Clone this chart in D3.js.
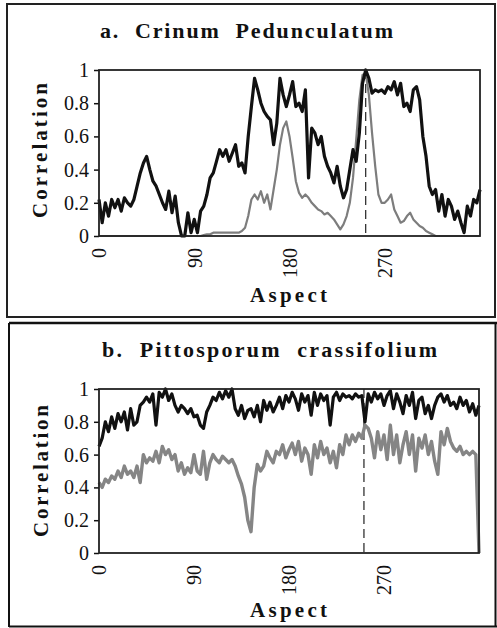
<!DOCTYPE html>
<html><head><meta charset="utf-8">
<script src="https://cdn.jsdelivr.net/npm/d3@7"></script>
<style>
body{margin:0;background:#fff}
svg{display:block}
text{font-family:"Liberation Serif","Times New Roman",serif;fill:#111}
</style>
</head><body>
<svg id="chart" width="497" height="628"></svg>
<script>
// ---------- data ----------
const aspectStep = 3;
const aspects = d3.range(0, 361, aspectStep);           // 0..360 every 3 degrees
const xTickValues = [0, 90, 180, 270];
const yTickValues = [0, 0.2, 0.4, 0.6, 0.8, 1];
const yTickLabels = ["0", "0.2", "0.4", "0.6", "0.8", "1"];
const panelTitles = ["a.  Crinum  Pedunculatum", "b.  Pittosporum  crassifolium"];
const yAxisTitle = "Correlation";
const xAxisTitle = "Aspect";
const markerAspects = [252, 251];

const crinumBlack = [
 0.22,0.08,0.2,0.12,0.22,0.17,0.22,0.15,0.23,0.2,
 0.18,0.22,0.3,0.38,0.44,0.48,0.4,0.33,0.3,0.25,
 0.2,0.16,0.27,0.14,0.24,0.08,0.0,0.0,0.14,0.02,
 0.1,0.02,0.15,0.18,0.25,0.35,0.38,0.45,0.52,0.48,
 0.52,0.45,0.5,0.55,0.42,0.44,0.38,0.6,0.78,0.95,
 0.88,0.8,0.75,0.72,0.7,0.55,0.68,0.95,0.85,0.78,
 0.85,0.93,0.78,0.8,0.75,0.88,0.35,0.65,0.62,0.55,
 0.6,0.48,0.42,0.38,0.32,0.42,0.3,0.23,0.28,0.4,
 0.52,0.45,0.62,0.92,1.0,0.95,0.86,0.88,0.87,0.88,
 0.86,0.9,0.88,0.93,0.85,0.92,0.78,0.8,0.75,0.88,
 0.9,0.82,0.6,0.48,0.3,0.25,0.28,0.15,0.25,0.12,
 0.22,0.18,0.1,0.15,0.08,0.02,0.18,0.12,0.22,0.2,
 0.28];
const crinumGray = [
 0,0,0,0,0,0,0,0,0,0,
 0,0,0,0,0,0,0,0,0,0,
 0,0,0,0,0,0,0,0,0,0,
 0,0,0,0.005,0.01,0.01,0.02,0.02,0.02,0.02,
 0.02,0.02,0.02,0.02,0.02,0.03,0.05,0.12,0.22,0.25,
 0.22,0.27,0.2,0.25,0.16,0.28,0.4,0.55,0.65,0.69,
 0.6,0.47,0.33,0.26,0.23,0.25,0.23,0.2,0.18,0.16,
 0.15,0.13,0.14,0.12,0.1,0.07,0.04,0.07,0.12,0.2,
 0.35,0.58,0.82,0.97,0.98,0.85,0.62,0.42,0.25,0.2,
 0.2,0.22,0.25,0.16,0.12,0.08,0.09,0.12,0.14,0.1,
 0.08,0.06,0.05,0.03,0.02,0.01,0,0,0,0,
 0,0,0,0,0,0,0,0,0,0,
 0];
const pittoBlack = [
 0.65,0.7,0.8,0.74,0.83,0.76,0.85,0.8,0.86,0.75,
 0.88,0.78,0.8,0.9,0.92,0.95,0.92,0.97,0.78,0.98,
 0.95,1.0,0.93,0.97,0.9,0.86,0.9,0.88,0.85,0.88,
 0.83,0.84,0.78,0.76,0.86,0.9,0.95,0.93,0.98,0.94,
 0.99,0.95,1.0,0.88,0.84,0.9,0.82,0.87,0.88,0.83,
 0.9,0.8,0.93,0.87,0.92,0.86,0.9,0.95,0.88,0.96,
 0.92,0.98,0.94,0.87,0.97,0.92,0.96,0.84,0.98,0.9,
 0.97,0.93,0.96,0.78,0.95,0.98,0.93,0.97,0.95,0.96,
 0.94,0.97,0.95,0.96,0.8,0.97,0.92,0.98,0.94,0.97,
 0.9,0.96,0.99,0.88,0.97,0.92,0.85,0.96,0.9,0.98,
 0.82,0.93,0.95,0.85,0.9,0.82,0.9,0.95,0.97,0.92,
 0.96,0.9,0.92,0.88,0.95,0.9,0.93,0.86,0.91,0.84,
 0.9];
const pittoGray = [
 0.43,0.4,0.45,0.43,0.47,0.45,0.5,0.46,0.53,0.48,
 0.5,0.46,0.53,0.43,0.6,0.55,0.58,0.56,0.62,0.55,
 0.65,0.6,0.63,0.57,0.6,0.5,0.55,0.48,0.52,0.49,
 0.6,0.5,0.48,0.62,0.45,0.55,0.6,0.57,0.55,0.59,
 0.57,0.55,0.57,0.53,0.47,0.42,0.34,0.2,0.13,0.4,
 0.54,0.5,0.53,0.62,0.58,0.55,0.62,0.6,0.66,0.58,
 0.63,0.67,0.6,0.68,0.56,0.64,0.6,0.48,0.66,0.58,
 0.68,0.6,0.64,0.55,0.62,0.52,0.66,0.6,0.72,0.66,
 0.72,0.68,0.73,0.7,0.78,0.76,0.7,0.58,0.74,0.63,
 0.72,0.57,0.78,0.6,0.72,0.55,0.66,0.74,0.6,0.72,
 0.5,0.7,0.64,0.72,0.6,0.68,0.56,0.48,0.74,0.66,
 0.76,0.68,0.64,0.62,0.65,0.6,0.62,0.6,0.62,0.6,
 0.0];

// ---------- layout ----------
const layout = [
  {plot:{x0:99,x1:480,y0:70,y1:236},
   title:{x:100,y:38,w:293}, ylab:{x:47,cy:150.5,len:135}, xlab:{cx:288.5,y:302,len:77}, xtickTop:248,
   black:crinumBlack, gray:crinumGray, grayW:2.2, grayC:"#7d7d7d"},
  {plot:{x0:99,x1:479,y0:389,y1:553},
   title:{x:102,y:357,w:335}, ylab:{x:48,cy:471,len:132}, xlab:{cx:288.5,y:617,len:77}, xtickTop:565,
   black:pittoBlack, gray:pittoGray, grayW:3.4, grayC:"#858585"}
];

const svg = d3.select("#chart");

// outer frames
svg.append("rect").attr("x",7).attr("y",4).attr("width",488).attr("height",313)
  .attr("fill","none").attr("stroke","#222").attr("stroke-width",2);
svg.append("line").attr("x1",9).attr("x2",497).attr("y1",323).attr("y2",323)
  .attr("stroke","#111").attr("stroke-width",2.5);
svg.append("line").attr("x1",9).attr("x2",9).attr("y1",323).attr("y2",627)
  .attr("stroke","#111").attr("stroke-width",2);
svg.append("line").attr("x1",9).attr("x2",497).attr("y1",626.5).attr("y2",626.5)
  .attr("stroke","#111").attr("stroke-width",2);
svg.append("line").attr("x1",495.5).attr("x2",495.5).attr("y1",323).attr("y2",627)
  .attr("stroke","#111").attr("stroke-width",2);

layout.forEach((L, i) => {
  const p = L.plot;
  const x = d3.scaleLinear().domain([0, 360]).range([p.x0, p.x1]);
  const y = d3.scaleLinear().domain([0, 1]).range([p.y1, p.y0]);
  const g = svg.append("g");

  // title
  g.append("text").attr("x", L.title.x).attr("y", L.title.y)
    .attr("font-size", 22).attr("font-weight", "bold")
    .style("white-space", "pre")
    .attr("textLength", L.title.w).attr("lengthAdjust", "spacing")
    .text(panelTitles[i]);

  // y axis
  const yAxis = d3.axisLeft(y).tickValues(yTickValues)
    .tickFormat((d, k) => yTickLabels[k]).tickSize(5).tickPadding(5);
  const ya = g.append("g").attr("transform", `translate(${p.x0},0)`).call(yAxis);
  ya.select(".domain").remove();
  ya.selectAll("line").attr("stroke", "#111").attr("stroke-width", 1.5);
  ya.selectAll("text").attr("font-size", 20).attr("font-family", "Liberation Serif").attr("fill", "#111");

  // x axis labels (rotated)
  const xAxis = d3.axisBottom(x).tickValues(xTickValues).tickSize(0).tickFormat(d3.format("d"));
  const xa = g.append("g").attr("transform", `translate(0,${p.y1})`).call(xAxis);
  xa.select(".domain").remove();
  xa.selectAll("text")
    .attr("font-size", 20).attr("font-family", "Liberation Serif").attr("fill", "#111")
    .attr("text-anchor", "end")
    .attr("transform", `translate(0,${L.xtickTop - p.y1}) rotate(-90)`)
    .attr("x", 0).attr("y", 0).attr("dy", "0.34em");

  // axis titles
  g.append("text")
    .attr("transform", `translate(${L.ylab.x},${L.ylab.cy}) rotate(-90)`)
    .attr("text-anchor", "middle").attr("font-size", 21).attr("font-weight", "bold")
    .attr("textLength", L.ylab.len).attr("lengthAdjust", "spacing")
    .text(yAxisTitle);
  g.append("text")
    .attr("x", L.xlab.cx).attr("y", L.xlab.y)
    .attr("text-anchor", "middle").attr("font-size", 21).attr("font-weight", "bold")
    .attr("textLength", L.xlab.len).attr("lengthAdjust", "spacing")
    .text(xAxisTitle);

  // dashed marker
  g.append("line")
    .attr("x1", x(markerAspects[i])).attr("x2", x(markerAspects[i]))
    .attr("y1", y(1)).attr("y2", y(0))
    .attr("stroke", "#222").attr("stroke-width", 1.2).attr("stroke-dasharray", "9,5");

  const line = d3.line().x((d, k) => x(aspects[k])).y(d => y(d));

  g.append("path").datum(L.gray).attr("d", line)
    .attr("fill", "none").attr("stroke", L.grayC).attr("stroke-width", L.grayW)
    .attr("stroke-linejoin", "round");
  g.append("path").datum(L.black).attr("d", line)
    .attr("fill", "none").attr("stroke", "#111").attr("stroke-width", 3.2)
    .attr("stroke-linejoin", "round");

  // plot box
  g.append("rect").attr("x", p.x0).attr("y", p.y0)
    .attr("width", p.x1 - p.x0).attr("height", p.y1 - p.y0)
    .attr("fill", "none").attr("stroke", "#222").attr("stroke-width", 1.8);
});
</script>
</body></html>
